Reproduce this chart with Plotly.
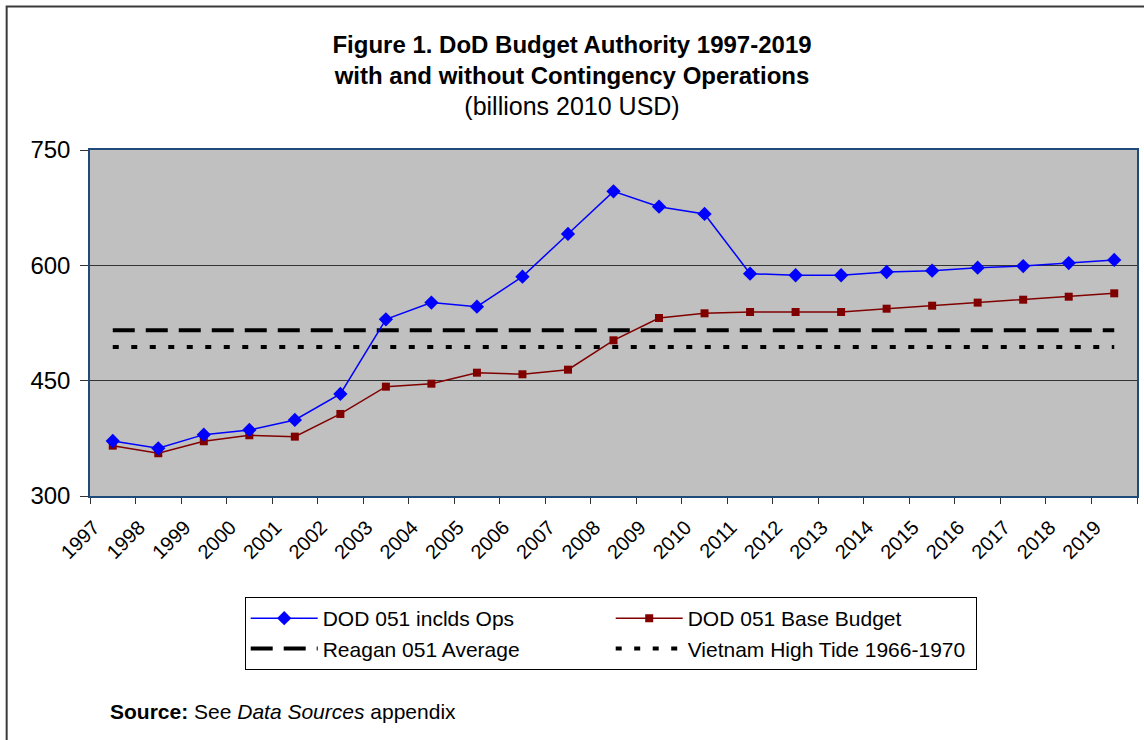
import plotly.graph_objects as go

# fiscal years on the category axis
years = [str(y) for y in range(1997, 2020)]

# DoD 051 budget authority, billions 2010 USD
dod_incl_ops = [371.5, 362.0, 379.8, 385.9, 398.9, 432.7, 529.8, 551.5, 546.2, 585.3,
                640.8, 696.2, 676.3, 666.8, 589.2, 587.1, 587.1, 591.3, 593.0, 596.9,
                599.1, 603.0, 607.0]
dod_base = [365.5, 355.6, 371.2, 379.0, 377.2, 406.7, 442.2, 446.1, 460.4, 458.3,
            464.3, 502.5, 531.5, 537.6, 539.3, 539.3, 539.3, 543.6, 547.5, 551.5,
            555.3, 559.2, 563.6]

# reference levels
reagan_avg = 515.5
vietnam_high = 493.8

y_ticks = [300, 450, 600, 750]

FONT = "Arial, 'Liberation Sans', sans-serif"

fig = go.Figure()

fig.add_trace(go.Scatter(
    x=[years[0], years[-1]], y=[reagan_avg, reagan_avg], mode="lines",
    name="Reagan 051 Average", legendrank=3,
    line=dict(color="black", width=4, dash="22px,11px"),
))
fig.add_trace(go.Scatter(
    x=[years[0], years[-1]], y=[vietnam_high, vietnam_high], mode="lines",
    name="Vietnam High Tide 1966-1970", legendrank=4,
    line=dict(color="black", width=4, dash="6px,12.5px"),
))
fig.add_trace(go.Scatter(
    x=years, y=dod_base, mode="lines+markers",
    name="DOD 051 Base Budget", legendrank=2,
    line=dict(color="#800000", width=1.5),
    marker=dict(symbol="square", size=8, color="#800000"),
))
fig.add_trace(go.Scatter(
    x=years, y=dod_incl_ops, mode="lines+markers",
    name="DOD 051 inclds Ops", legendrank=1,
    line=dict(color="#0000FF", width=1.5),
    marker=dict(symbol="diamond", size=11, color="#0000FF"),
))

fig.update_layout(
    width=1144, height=740,
    margin=dict(l=90, r=5, t=150, b=244),
    paper_bgcolor="white",
    plot_bgcolor="#C0C0C0",
    font=dict(family=FONT, color="black"),
    title=dict(
        text="<b>Figure 1. DoD Budget Authority 1997-2019<br>"
             "with and without Contingency Operations</b><br>"
             "<span style='font-size:25px'>(billions 2010 USD)</span>",
        x=0.5, xanchor="center", xref="container",
        y=1 - 53 / 740, yanchor="top", yref="container",
        font=dict(size=24, family=FONT, color="black"),
    ),
    xaxis=dict(
        type="category", categoryorder="array", categoryarray=years,
        range=[-0.5, 22.5],
        tickson="boundaries", ticks="outside", ticklen=6, tickcolor="#333",
        tickangle=-45, ticklabelshift=-19, ticklabelstandoff=10,
        tickfont=dict(size=20),
        showgrid=False, showline=True, linecolor="#1F4A7A", linewidth=1.5, mirror=True,
    ),
    yaxis=dict(
        range=[300, 750], tickvals=y_ticks,
        ticks="outside", ticklen=8, tickcolor="#333", ticklabelstandoff=5,
        tickfont=dict(size=24),
        showgrid=True, gridcolor="#333", gridwidth=1, zeroline=False,
        showline=True, linecolor="#1F4A7A", linewidth=1.5, mirror=True,
    ),
    legend=dict(
        orientation="h", x=(245 - 90) / 1049, xanchor="left",
        y=(496 - 597) / 346, yanchor="top",
        entrywidth=283, itemwidth=67,
        font=dict(size=21), bgcolor="white",
        bordercolor="black", borderwidth=1,
        traceorder="normal",
    ),
    showlegend=True,
)

fig.add_annotation(
    text="<b>Source:</b> See <i>Data Sources</i> appendix",
    xref="paper", yref="paper", x=(108 - 90) / 1049, y=(496 - 711) / 346,
    xanchor="left", yanchor="middle", showarrow=False,
    font=dict(size=21, family=FONT, color="black"),
)

# outer chart frame (top and left edges visible in the crop)
fig.add_shape(
    type="rect", xref="paper", yref="paper",
    x0=(6.5 - 90) / 1049, x1=1.2, y0=-0.9, y1=(496 - 6.5) / 346,
    line=dict(color="#3A3A3A", width=2), fillcolor="rgba(0,0,0,0)", layer="below",
)

# drop the default page margin so the figure sits at the window's corner
fig.write_html("out.html", config={"displayModeBar": False},
               post_script="document.body.style.margin='0';")
